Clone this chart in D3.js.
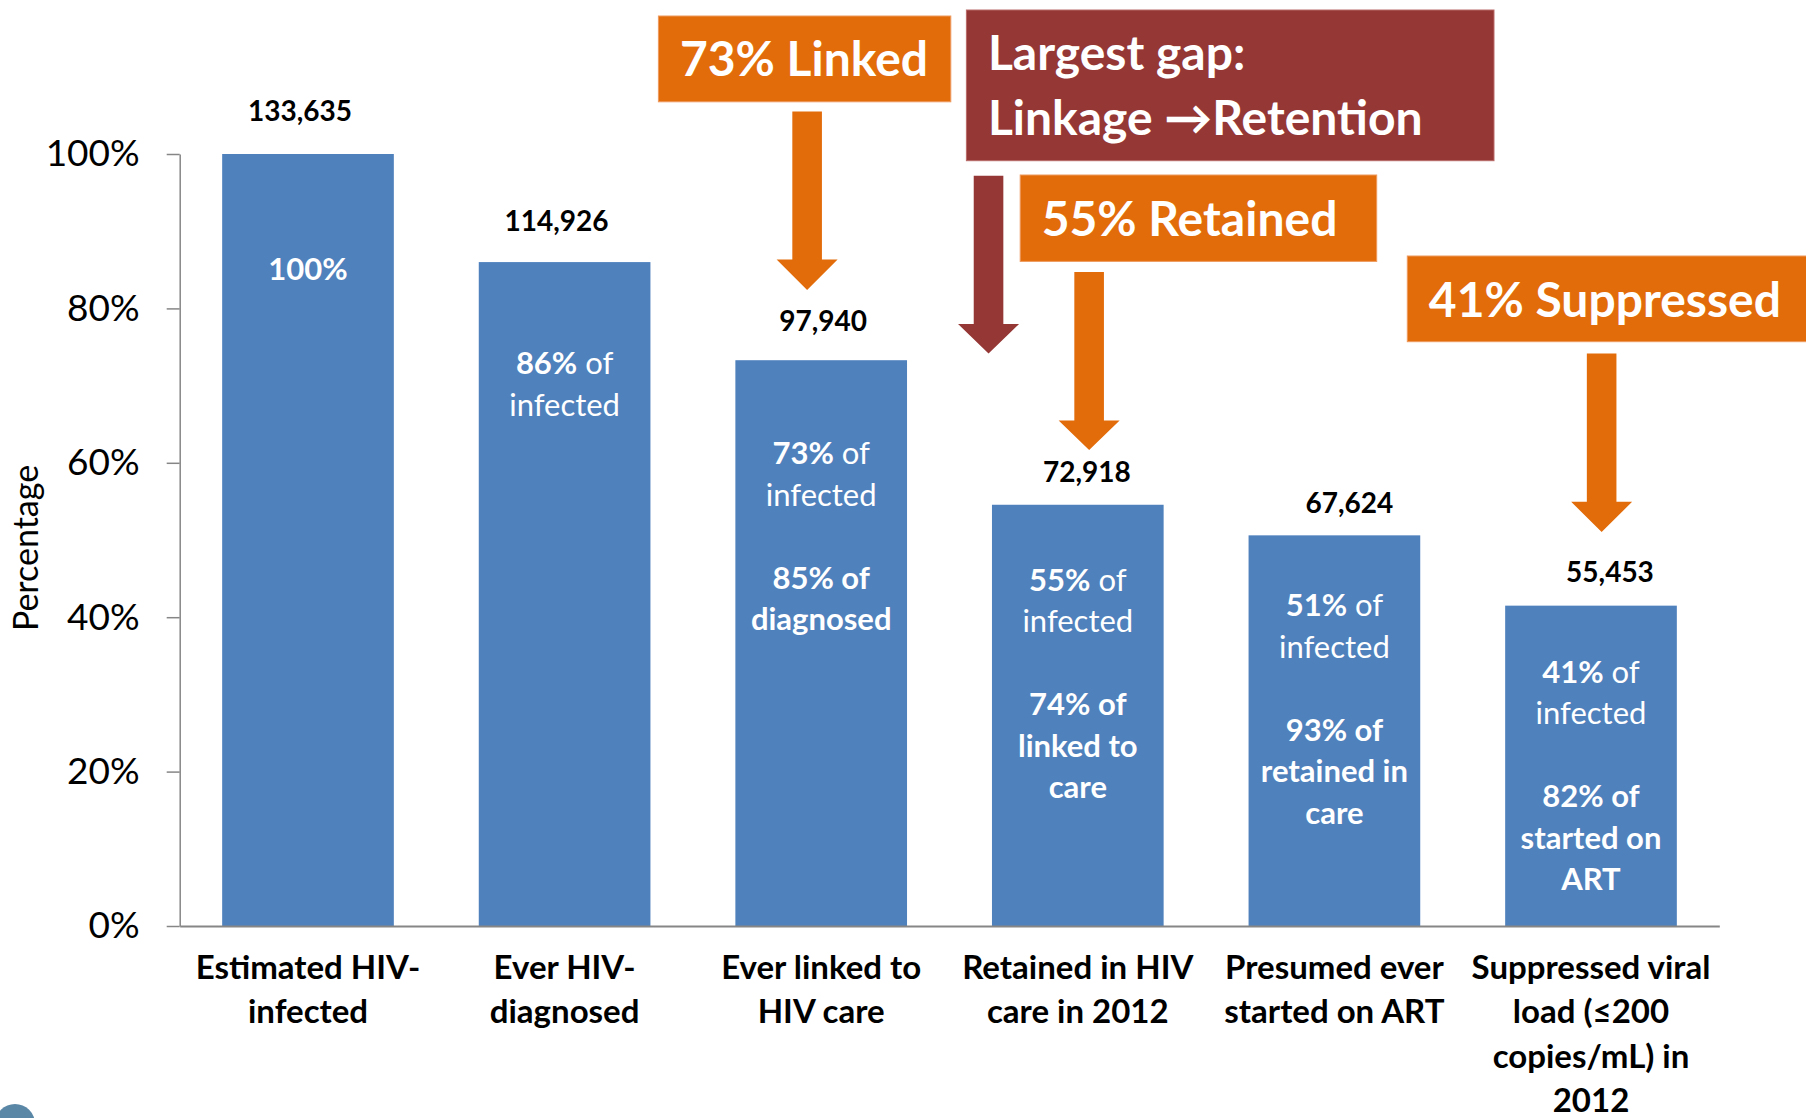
<!DOCTYPE html>
<html>
<head>
<meta charset="utf-8">
<script src="https://cdn.jsdelivr.net/npm/d3@7/dist/d3.min.js"></script>
<style>
  html, body { margin: 0; padding: 0; background: #ffffff; }
  svg { display: block; font-family: Lato, "Open Sans", sans-serif; }
</style>
</head>
<body>
<svg id="chart" width="1806" height="1118"></svg>
<script>
// HIV care continuum, 2012
const categories = [
  "Estimated HIV-infected",
  "Ever HIV-diagnosed",
  "Ever linked to HIV care",
  "Retained in HIV care in 2012",
  "Presumed ever started on ART",
  "Suppressed viral load (≤200 copies/mL) in 2012"
];
const categoryLines = [
  ["Estimated HIV-", "infected"],
  ["Ever HIV-", "diagnosed"],
  ["Ever linked to", "HIV care"],
  ["Retained in HIV", "care in 2012"],
  ["Presumed ever", "started on ART"],
  ["Suppressed viral", "load (≤200", "copies/mL) in", "2012"]
];
const counts = [133635, 114926, 97940, 72918, 67624, 55453];
const pctOfInfected = [100, 86, 73, 55, 51, 41];
const pctOfPrevious = [null, null, 85, 74, 93, 82];
const previousStageLines = [null, null, ["diagnosed"], ["linked to", "care"], ["retained in", "care"], ["started on", "ART"]];
const yTicks = [0, 20, 40, 60, 80, 100];

// Bar height = share of all estimated infections
const share = counts.map(c => c / counts[0] * 100);

// Label placement (pixels)
const countNudge = [[-8, 33], [-8, 31], [2, 29], [9, 23], [15, 22], [19, 24]];
const innerFirstLine = [126, 112, 104, 86, 81, 77];
const innerLineHeight = 41.5;

const COLORS = { bar: "#4F81BD", orange: "#E36C0A", red: "#953735", axis: "#868686" };

const svg = d3.select("#chart");

const x = d3.scaleBand()
  .domain(categories)
  .range([179.7, 1719.3])
  .paddingInner(0.331)
  .paddingOuter(0.1655);

const y = d3.scaleLinear().domain([0, 100]).range([926, 154]);

// Bars
svg.append("g").selectAll("rect")
  .data(categories)
  .join("rect")
  .attr("x", d => x(d))
  .attr("y", (d, i) => y(share[i]))
  .attr("width", x.bandwidth())
  .attr("height", (d, i) => y(0) - y(share[i]))
  .attr("fill", COLORS.bar);

// Y axis
const yAxis = svg.append("g")
  .attr("transform", `translate(${x.range()[0]},0)`)
  .call(d3.axisLeft(y).tickValues(yTicks).tickFormat(d => d + "%").tickSize(13).tickSizeOuter(0).tickPadding(27));
yAxis.select(".domain").attr("stroke", COLORS.axis).attr("stroke-width", 1.5);
yAxis.selectAll(".tick line").attr("stroke", COLORS.axis).attr("stroke-width", 1.5);
yAxis.selectAll(".tick text")
  .attr("fill", "#000").attr("font-size", 37).attr("font-family", "Lato, sans-serif");

// X axis baseline
const xAxis = svg.append("g")
  .attr("transform", `translate(0,${y(0)})`)
  .call(d3.axisBottom(x).tickSize(0).tickSizeOuter(0).tickFormat(""));
xAxis.select(".domain").attr("stroke", COLORS.axis).attr("stroke-width", 2);

// Category labels (wrapped)
const catG = svg.append("g").attr("font-weight", 700).attr("font-size", 33).attr("fill", "#000").attr("text-anchor", "middle");
categories.forEach((c, i) => {
  const cx = x(c) + x.bandwidth() / 2;
  const t = catG.append("text").attr("x", cx).attr("y", 979);
  categoryLines[i].forEach((ln, k) => {
    t.append("tspan").attr("x", cx).attr("y", 979 + k * 44.3).text(ln);
  });
});

// Y axis title
svg.append("text")
  .attr("transform", `translate(38,548) rotate(-90)`)
  .attr("text-anchor", "middle")
  .attr("font-size", 34)
  .attr("fill", "#000")
  .text("Percentage");

// Count labels above bars
svg.append("g").selectAll("text")
  .data(categories)
  .join("text")
  .attr("x", (d, i) => x(d) + x.bandwidth() / 2 + countNudge[i][0])
  .attr("y", (d, i) => y(share[i]) - countNudge[i][1])
  .attr("text-anchor", "middle")
  .attr("font-weight", 700)
  .attr("font-size", 28)
  .attr("fill", "#000")
  .text((d, i) => d3.format(",")(counts[i]));

// Labels inside bars
const innerG = svg.append("g").attr("fill", "#fff").attr("font-size", 31).attr("text-anchor", "middle");
categories.forEach((c, i) => {
  const cx = x(c) + x.bandwidth() / 2;
  const top = y(share[i]) + innerFirstLine[i];
  const lines = [];
  if (i === 0) {
    lines.push([[pctOfInfected[i] + "%", 700]]);
  } else {
    lines.push([[pctOfInfected[i] + "%", 700], [" of", 400]]);
    lines.push([["infected", 400]]);
  }
  if (pctOfPrevious[i] != null) {
    lines.push([]);
    lines.push([[pctOfPrevious[i] + "% of", 700]]);
    previousStageLines[i].forEach(s => lines.push([[s, 700]]));
  }
  lines.forEach((segs, k) => {
    if (!segs.length) return;
    const t = innerG.append("text").attr("x", cx).attr("y", top + k * innerLineHeight);
    segs.forEach(([txt, w]) => t.append("tspan").attr("font-weight", w).text(txt));
  });
});

// Callout boxes
const callouts = [
  { x: 658.4, y: 16, w: 292.4, h: 85.8, fill: COLORS.orange, edge: "#EE9A5E", lines: ["73% Linked"], base: 75.7 },
  { x: 966.4, y: 10, w: 527.6, h: 150.7, fill: COLORS.red, edge: "#B86A68", lines: ["Largest gap:", "Linkage \u2192Retention"], base: 69.6, lh: 65.4 },
  { x: 1020.2, y: 175, w: 356.5, h: 86.4, fill: COLORS.orange, edge: "#EE9A5E", lines: ["55% Retained"], base: 235.7 },
  { x: 1407.3, y: 256, w: 400, h: 85.7, fill: COLORS.orange, edge: "#EE9A5E", lines: ["41% Suppressed"], base: 317.3 }
];
const boxG = svg.append("g");
callouts.forEach(b => {
  boxG.append("rect").attr("x", b.x).attr("y", b.y).attr("width", b.w).attr("height", b.h)
    .attr("fill", b.fill).attr("stroke", b.edge).attr("stroke-width", 1);
  const t = boxG.append("text").attr("fill", "#fff").attr("font-weight", 700).attr("font-size", 48);
  b.lines.forEach((ln, k) => {
    t.append("tspan").attr("x", b.x + 21.5).attr("y", b.base + k * (b.lh || 0)).text(ln);
  });
});

// Downward arrows, positioned against the bar they point to
const arrows = [
  { cat: 2, frac: 0.418, top: 111.4, headTop: 259.6, tip: 290, fill: COLORS.orange },
  { cat: 3, frac: -0.02, top: 175.7, headTop: 324, tip: 353.6, fill: COLORS.red },
  { cat: 3, frac: 0.566, top: 272, headTop: 420.4, tip: 450, fill: COLORS.orange },
  { cat: 5, frac: 0.562, top: 353.6, headTop: 501.8, tip: 532, fill: COLORS.orange }
];
const shaftHalf = 14.8, headHalf = 30.5;
svg.append("g").selectAll("path")
  .data(arrows)
  .join("path")
  .attr("fill", d => d.fill)
  .attr("d", d => {
    const cx = x(categories[d.cat]) + d.frac * x.bandwidth();
    const p = d3.path();
    p.moveTo(cx - shaftHalf, d.top);
    p.lineTo(cx + shaftHalf, d.top);
    p.lineTo(cx + shaftHalf, d.headTop);
    p.lineTo(cx + headHalf, d.headTop);
    p.lineTo(cx, d.tip);
    p.lineTo(cx - headHalf, d.headTop);
    p.lineTo(cx - shaftHalf, d.headTop);
    p.closePath();
    return p.toString();
  });

// Corner badge
svg.append("circle").attr("cx", 15).attr("cy", 1124).attr("r", 20).attr("fill", "#5B87A6");
</script>
</body>
</html>
